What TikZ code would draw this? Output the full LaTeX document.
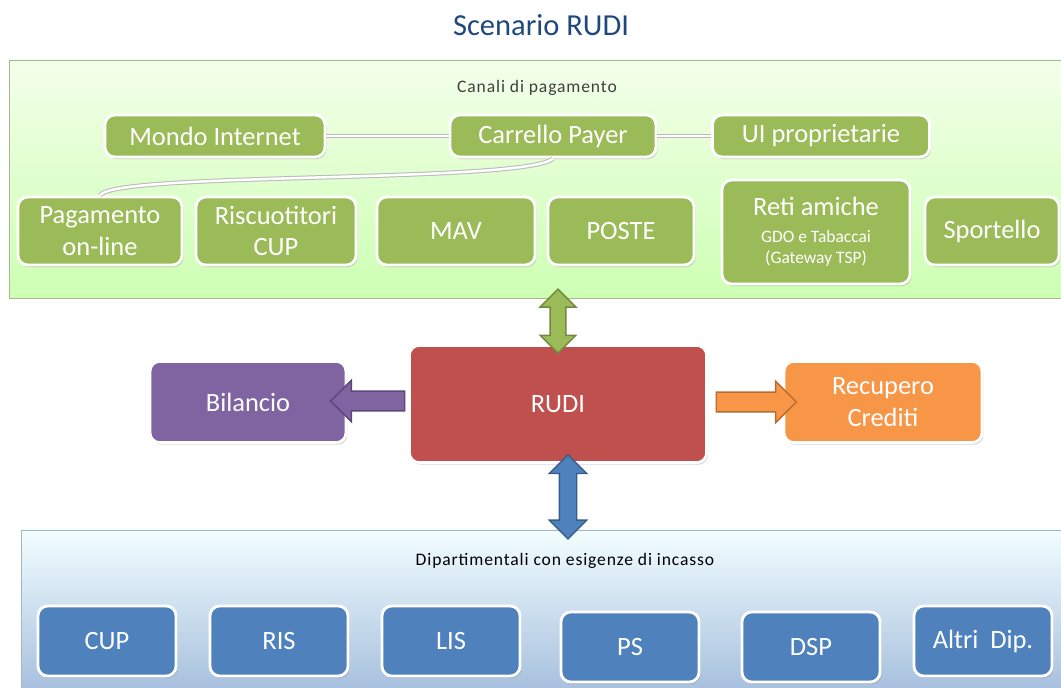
\documentclass[tikz,border=0pt]{standalone}
\usepackage{fontspec}
\setmainfont{Carlito}
\usetikzlibrary{shapes.arrows,shadows,calc}
\definecolor{blutitolo}{RGB}{31,73,125}
\definecolor{verde}{RGB}{155,187,89}
\definecolor{verdescuro}{RGB}{113,137,63}
\definecolor{rosso}{RGB}{192,80,77}
\definecolor{viola}{RGB}{128,100,162}
\definecolor{violascuro}{RGB}{92,71,118}
\definecolor{arancio}{RGB}{247,150,70}
\definecolor{arancioscuro}{RGB}{182,109,49}
\definecolor{blu}{RGB}{79,129,189}
\definecolor{bluscuro}{RGB}{56,93,138}
\newcommand{\piccolo}{\fontsize{12.4}{15}\selectfont}
\begin{document}
\begin{tikzpicture}[x=0.025cm,y=-0.025cm,
  pannello/.style={rectangle, inner sep=0pt, line width=0.6pt},
  box/.style={rectangle, draw=white, line width=2pt, rounded corners=7pt, text=white,
    font=\fontsize{18.8}{22.5}\selectfont, align=center, inner sep=0pt,
    drop shadow={shadow xshift=1pt,shadow yshift=-1.5pt,opacity=0.35}},
  verdebox/.style={box, fill=verde, minimum height=1.7cm},
  blubox/.style={box, fill=blu, minimum width=3.45cm, minimum height=1.75cm},
  etichetta/.style={font=\fontsize{12.5}{15}\selectfont\addfontfeatures{LetterSpace=5}},
  freccia/.style={single arrow, inner xsep=0pt, inner ysep=0.23cm, line width=1pt,
    single arrow head extend=0.27cm, minimum width=0pt},
  freccia2/.style={double arrow, inner xsep=0pt, inner ysep=0.18cm, line width=1pt,
    double arrow head extend=0.25cm, minimum width=0pt},
  linea/.style={draw=gray!55, line width=3.2pt, postaction={draw=white, line width=1.8pt}}]
\useasboundingbox (0,0) rectangle (1061,688);
\node[font=\fontsize{21.7}{26}\selectfont, text=blutitolo] (titolo) at (541,25) {Scenario RUDI};
%% canali di pagamento
\node[pannello, draw=verdescuro!60, top color=green!40!lime!8, bottom color=lime!45!green!30,
  minimum width=26.375cm, minimum height=5.95cm] (canali) at (537.5,179) {};
\node[etichetta, text=black!75] (lcanali) at (537,88) {Canali di pagamento};
\node[verdebox, minimum width=5.5cm, minimum height=1.05cm] (mondo) at (215,136) {Mondo Internet};
\node[verdebox, minimum width=5.15cm, minimum height=1.05cm] (carrello) at (553,136) {Carrello Payer};
\node[verdebox, minimum width=5.43cm, minimum height=1.05cm] (ui) at (821,136) {UI proprietarie};
\node[verdebox, minimum width=4.1cm] (pagamento) at (100,231) {Pagamento\\on-line};
\node[verdebox, minimum width=4cm] (riscuotitori) at (276,231) {Riscuotitori\\CUP};
\node[verdebox, minimum width=3.95cm] (mav) at (456,231) {MAV};
\node[verdebox, minimum width=3.65cm] (poste) at (621,231) {POSTE};
\node[verdebox, minimum width=4.7cm, minimum height=2.6cm] (reti) at (816,232)
  {Reti amiche\\[-3.5pt]{\piccolo GDO e Tabaccai}\\[-7.5pt]{\piccolo (Gateway TSP)}};
\node[verdebox, minimum width=3.35cm] (sportello) at (992,231) {Sportello};
\draw[linea] (mondo) -- (carrello);
\draw[linea] (carrello) -- (ui);
\draw[linea] (carrello.south) .. controls +(-25,25) and +(10,-24) .. (pagamento.north);
%% dipartimentali
\node[pannello, draw=bluscuro!45, top color=blue!15!cyan!5!white, bottom color=blu!50!white,
  minimum width=26.075cm, minimum height=4cm] (dip) at (543.5,610) {};
\node[etichetta] (ldip) at (565,561) {Dipartimentali con esigenze di incasso};
\node[blubox] (cup) at (107,641) {CUP};
\node[blubox] (ris) at (279,641) {RIS};
\node[blubox] (lis) at (451,641) {LIS};
\node[blubox] (ps) at (630,647) {PS};
\node[blubox] (dsp) at (811,647) {DSP};
\node[blubox] (altri) at (983,641) {Altri~ Dip.};
%% centro
\node[box, fill=rosso, minimum width=7.43cm, minimum height=2.93cm] (rudi) at (558,404) {RUDI};
\node[box, fill=viola, minimum width=4.9cm, minimum height=2.03cm] (bilancio) at (248,402) {Bilancio};
\node[box, fill=arancio, minimum width=4.95cm, minimum height=2.03cm] (recupero) at (883,402) {Recupero\\Crediti};
\node[freccia2, fill=verde, draw=verdescuro, minimum height=1.6cm, rotate=90] (fverde)
  at ($(rudi.north)!0.5!(rudi.north |- canali.south)$) {};
\node[freccia2, fill=blu, draw=bluscuro, minimum height=2.1cm, inner ysep=0.2cm, rotate=90] (fblu)
  at ($(rudi.south)!0.5!(rudi.south |- dip.north)+(10,0)$) {};
\node[freccia, fill=viola, draw=violascuro, minimum height=1.85cm, shape border rotate=180] (fviola)
  at ($(rudi.west)!0.5!(bilancio.east)+(-5,-2)$) {};
\node[freccia, fill=arancio, draw=arancioscuro, minimum height=2cm] (farancio)
  at ($(rudi.east)!0.5!(recupero.west)+(6,-1)$) {};
\end{tikzpicture}
\end{document}
